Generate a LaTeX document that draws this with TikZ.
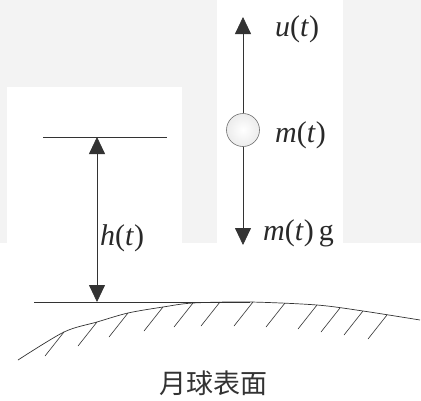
\documentclass[tikz,border=0pt]{standalone}
\usepackage{fontspec}
\setmainfont{Liberation Serif}
\newfontfamily\cjk{Noto Sans CJK SC}
\usetikzlibrary{arrows.meta}
\definecolor{ink}{HTML}{333333}
\definecolor{paper}{HTML}{F3F3F3}
\tikzset{
  lbl/.style={anchor=west,inner sep=0pt,text=ink!80!black,font=\fontsize{30}{33}\selectfont},
  tip/.style={-{Triangle[length=17pt,width=16pt]}},
  ink/.style={draw=ink,line width=0.8pt}
}
\begin{document}
\begin{tikzpicture}[x=1pt,y=-1pt]
\fill[paper] (0,0) rectangle (421,400);
\fill[white] (7,87) rectangle (182,243);
\fill[white] (217,0) rectangle (343,243);
\fill[white] (0,243) rectangle (421,400);
\useasboundingbox (0,0) rectangle (421,400);
% height h(t) above the surface
\coordinate (top) at (97,137);
\coordinate (foot) at (97,302);
\draw[ink] (43,137) -- (167,137);
\draw[ink] (34,302) -- (250,302);
\draw[ink,{Triangle[length=17pt,width=16pt]}-{Triangle[length=17pt,width=16pt]}] (top) -- (foot);
\node[lbl] (h) at (100,238) {\textit{h}(\textit{t})};
% lunar surface
\draw[ink,line width=0.7pt] plot[smooth] coordinates {(18,360) (64,332) (97,322) (128,313) (163,307) (193,303) (250,302) (317,305) (363,311) (420,320)};
\foreach \x/\y in {64/332,97/322,128/313,163/307,193/303,220/302,253/302,285/303,317/305,340/308,363/311,387/315}
  \draw[ink,line width=0.6pt] (\x,\y) -- ++(-19,24);
\node[text=ink,font=\cjk\fontsize{27}{30}\selectfont] (moon) at (213,383) {月球表面};
% the lander and its forces
\node[circle,minimum size=33pt,inner sep=0pt,draw=ink!70,line width=0.6pt,inner color=white,outer color=gray!15] (ball) at (243,130) {};
\coordinate (up) at (243,17);
\coordinate (down) at (243,245);
\draw[ink,tip] (ball.north) -- (up);
\draw[ink,tip] (ball.south) -- (down);
\node[lbl] (u) at (275,29) {\textit{u}(\textit{t})};
\node[lbl] (m) at (275,135) {\textit{m}(\textit{t})};
\node[lbl] (mg) at (263,233) {\textit{m}(\textit{t})\,g};
\end{tikzpicture}
\end{document}
